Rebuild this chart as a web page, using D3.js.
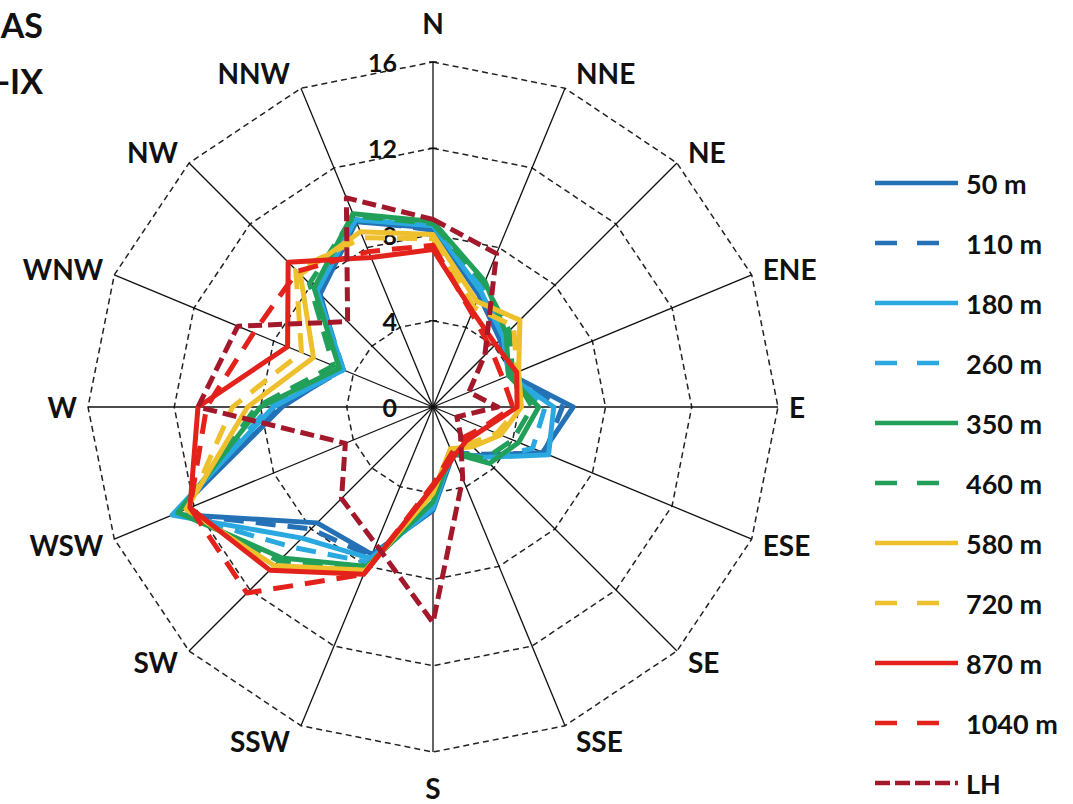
<!DOCTYPE html>
<html><head><meta charset="utf-8">
<script src="https://cdn.jsdelivr.net/npm/d3@7"></script>
<style>body{margin:0;background:#fff;}svg{display:block;}</style>
</head><body>
<svg id="chart" width="1073" height="804"></svg>
<script>
const directions = ["N","NNE","NE","ENE","E","ESE","SE","SSE","S","SSW","SW","WSW","W","WNW","NW","NNW"];
const ringTicks = [0,4,8,12,16];
const seriesNames = ["50 m","110 m","180 m","260 m","350 m","460 m","580 m","720 m","870 m","1040 m","LH"];
const h50   = [8.3,5.6,4.4,3.9,6.5,5.5,3.2,2.4,4.8,7.4,7.6,13.0,7.0,4.6,7.4,9.3];
const h110  = [8.2,5.7,4.5,3.9,6.0,5.6,3.1,2.3,4.7,7.5,8.0,12.9,7.2,4.5,7.5,9.4];
const h180  = [8.4,5.8,4.6,3.8,5.6,5.8,3.3,2.3,4.7,7.6,8.6,13.1,7.4,4.5,7.6,9.4];
const h260  = [8.5,6.0,4.7,3.8,5.2,5.0,3.5,2.3,4.6,7.8,9.2,12.9,7.6,4.6,7.7,9.5];
const h350  = [8.6,6.3,4.8,3.8,4.9,4.3,3.7,2.3,4.4,8.0,9.9,12.8,8.0,4.7,7.8,9.7];
const h460  = [8.5,6.2,5.0,4.0,4.6,4.0,3.4,2.2,4.3,8.1,10.1,12.6,8.2,5.0,8.1,9.6];
const h580  = [8.0,5.3,5.7,4.3,4.1,3.4,2.6,2.1,4.0,8.2,10.4,12.4,8.6,6.0,8.7,8.8];
const h720  = [7.8,5.0,5.3,4.2,4.0,3.2,2.4,2.2,3.9,8.3,10.5,12.3,9.3,6.6,9.0,8.5];
const h870  = [7.3,4.8,4.1,4.2,3.9,2.6,2.2,2.5,3.7,8.4,10.7,12.2,10.9,7.3,9.5,7.5];
const h1040 = [7.5,4.7,3.8,3.5,3.7,2.5,2.0,2.3,3.6,8.4,12.2,12.2,10.5,9.0,8.9,7.8];
const hLH   = [8.7,7.7,3.4,1.8,3.0,1.2,1.8,3.6,10.0,6.9,6.0,4.4,10.9,9.8,5.6,10.5];
const seriesValues = [h50,h110,h180,h260,h350,h460,h580,h720,h870,h1040,hLH];
const seriesColors = ["#2471B5","#2471B5","#29A9E0","#29A9E0","#22A05A","#22A05A","#EEC02E","#EEC02E","#E3221C","#E3221C","#A3192B"];
const seriesStyle = ["solid","dash","solid","dash","solid","dash","solid","dash","solid","dash","dot"];
const titleLines = ["AS","-IX"];

const svg = d3.select("#chart");
const cx = 433, cy = 407, R = 345;
const n = directions.length;
const r = d3.scaleLinear().domain([0,16]).range([0,R]);
const ang = i => i * 2 * Math.PI / n;
const g = svg.append("g").attr("transform", `translate(${cx},${cy})`);
const font = "Lato, 'Open Sans', sans-serif";

// grid rings
const ringLine = d3.lineRadial().angle((d,i)=>ang(i)).radius(d=>r(d)).curve(d3.curveLinearClosed);
ringTicks.filter(t=>t>0).forEach(t=>{
  g.append("path").attr("d", ringLine(directions.map(()=>t)))
   .attr("fill","none").attr("stroke","#222").attr("stroke-width",1.5).attr("stroke-dasharray","6,4");
});
// spokes
g.selectAll("line.spoke").data(directions).join("line").attr("class","spoke")
 .attr("x1",0).attr("y1",0)
 .attr("x2",(d,i)=>r(16)*Math.sin(ang(i))).attr("y2",(d,i)=>-r(16)*Math.cos(ang(i)))
 .attr("stroke","#111").attr("stroke-width",1.3);
// tick marks on N axis
g.selectAll("line.tick").data(ringTicks).join("line").attr("class","tick")
 .attr("x1",-4).attr("x2",4).attr("y1",d=>-r(d)).attr("y2",d=>-r(d))
 .attr("stroke","#111").attr("stroke-width",1.3);
// tick labels
g.selectAll("text.tl").data(ringTicks).join("text").attr("class","tl")
 .attr("x",-36).attr("y",d=>-r(d)).attr("text-anchor","end").attr("dominant-baseline","central")
 .attr("font-family",font).attr("font-weight",700).attr("font-size",25)
 .attr("fill","#111").text(d=>d);

// series
const line = d3.lineRadial().angle((d,i)=>ang(i)).radius(d=>r(d)).curve(d3.curveLinearClosed);
const dashFor = s => s==="dash" ? "20,12" : (s==="dot" ? "14,6" : null);
seriesValues.forEach((vals,k)=>{
  g.append("path").attr("d", line(vals)).attr("fill","none")
   .attr("stroke", seriesColors[k]).attr("stroke-width", 5)
   .attr("stroke-linejoin","round")
   .attr("stroke-dasharray", dashFor(seriesStyle[k]));
});

// direction labels
directions.forEach((d,i)=>{
  const s = Math.sin(ang(i)), c = Math.cos(ang(i));
  let x = r(16)*s, y = -r(16)*c, anchor = "middle";
  if (Math.abs(s) < 0.01) { y += c > 0 ? -39 : 36; }
  else { anchor = s > 0 ? "start" : "end"; x += s > 0 ? 11 : -11; y += -c*16; }
  g.append("text").attr("x",x).attr("y",y).attr("text-anchor",anchor).attr("dominant-baseline","central")
   .attr("font-family",font).attr("font-weight",700).attr("font-size",28)
   .attr("fill","#111").text(d);
});

// legend
const lg = svg.append("g").attr("transform","translate(875,183)");
seriesNames.forEach((name,k)=>{
  const y = k*60;
  lg.append("line").attr("x1",0).attr("x2",83).attr("y1",y).attr("y2",y)
    .attr("stroke",seriesColors[k]).attr("stroke-width",4.5)
    .attr("stroke-dasharray", seriesStyle[k]==="dash" ? "22,20" : (seriesStyle[k]==="dot" ? "15,5" : null));
  lg.append("text").attr("x",91).attr("y",y).attr("dominant-baseline","central")
    .attr("font-family",font).attr("font-weight",700).attr("font-size",27)
    .attr("fill","#111").text(name);
});

// cropped title
svg.selectAll("text.title").data(titleLines).join("text").attr("class","title")
 .attr("x",43).attr("y",(d,i)=>38+i*56).attr("text-anchor","end")
 .attr("font-family",font).attr("font-weight",700).attr("font-size",34)
 .attr("fill","#111").text(d=>d);
</script>
</body></html>
